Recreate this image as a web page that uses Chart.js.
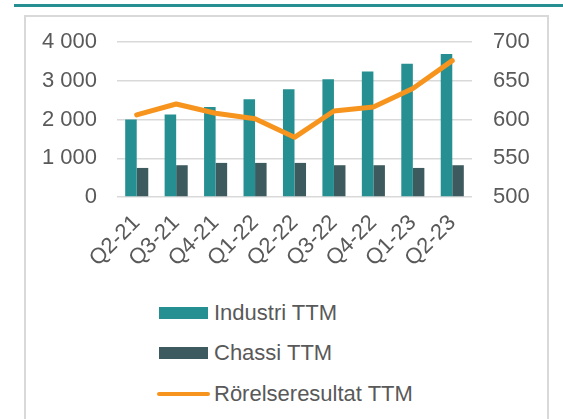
<!DOCTYPE html>
<html>
<head>
<meta charset="utf-8">
<script src="https://cdn.jsdelivr.net/npm/chart.js@4"></script>
<style>
  body { margin: 0; background: #fff; width: 563px; height: 419px; overflow: hidden; position: relative; font-family: Arial, "Liberation Sans", sans-serif; }
  #topline { position: absolute; left: 14px; top: 4px; width: 549px; height: 3px; background: #268f92; }
  #frame { position: absolute; left: 24px; top: 15px; width: 521px; height: 420px; border: 2px solid #d9d9d9; border-bottom: none; }
  #wrap { position: absolute; left: 24px; top: 16px; }
  #legend { position: absolute; left: 157px; top: 293px; color: #595959; font-size: 22px; }
  .row { display: flex; align-items: center; height: 40.3px; }
  .sw { width: 53px; display: flex; justify-content: center; margin-right: 4px; }
</style>
</head>
<body>
<div id="topline"></div>
<div id="frame"></div>
<div id="wrap"><canvas id="combo-chart" width="525" height="262"></canvas></div>
<div id="legend"></div>
<script>
const quarters = ["Q2-21", "Q3-21", "Q4-21", "Q1-22", "Q2-22", "Q3-22", "Q4-22", "Q1-23", "Q2-23"];
const industri = [2000, 2130, 2320, 2520, 2780, 3040, 3240, 3440, 3690];
const chassi = [750, 820, 880, 880, 880, 820, 820, 750, 820];
const rorelseresultat = [606, 620, 608, 601, 577, 611, 616, 640, 676];
const leftTicks = [0, 1000, 2000, 3000, 4000];
const rightTicks = [500, 550, 600, 650, 700];

const grey = "#595959";
const combo_chart = document.getElementById("combo-chart");

function spaced(v) {
  return String(v).replace(/\B(?=(\d{3})+(?!\d))/g, " ");
}

// y axes: fixed width, and no extra top/bottom padding from the tick padding
function fixAxis(width) {
  return function (scale) {
    scale.width = width;
    scale.paddingTop = 0;
    scale.paddingBottom = 0;
  };
}

const chart = new Chart(combo_chart, {
  type: 'bar',
  data: {
    labels: quarters,
    datasets: [
      {
        label: 'Industri TTM',
        data: industri,
        backgroundColor: 'rgb(38, 143, 146)',
        yAxisID: 'y',
        order: 1
      },
      {
        label: 'Chassi TTM',
        data: chassi,
        backgroundColor: 'rgb(61, 91, 95)',
        yAxisID: 'y',
        order: 1
      },
      {
        type: 'line',
        label: 'Rörelseresultat TTM',
        data: rorelseresultat,
        borderColor: 'rgb(247, 148, 29)',
        borderWidth: 5,
        pointRadius: 0,
        borderCapStyle: 'round',
        borderJoinStyle: 'round',
        tension: 0,
        yAxisID: 'y1',
        order: 0
      }
    ]
  },
  options: {
    responsive: false,
    animation: false,
    layout: { padding: { top: 26, left: 0, right: 0, bottom: 0 } },
    datasets: {
      bar: { categoryPercentage: 0.585, barPercentage: 1 }
    },
    plugins: {
      legend: { display: false },
      tooltip: { enabled: false }
    },
    scales: {
      x: {
        grid: { display: false },
        border: { display: false },
        ticks: {
          color: grey,
          font: { size: 22, family: 'Arial, "Liberation Sans", sans-serif' },
          minRotation: 45,
          maxRotation: 45,
          autoSkip: false,
          padding: 5
        },
        afterFit(scale) { scale.height = 81; }
      },
      y: {
        position: 'left',
        min: 0,
        max: 4000,
        afterBuildTicks(scale) { scale.ticks = leftTicks.map(v => ({ value: v })); },
        grid: { color: '#d9d9d9', lineWidth: 1.5, drawTicks: false },
        border: { display: false },
        ticks: {
          color: grey,
          font: { size: 22, family: 'Arial, "Liberation Sans", sans-serif' },
          padding: 20,
          callback: v => spaced(v)
        },
        afterFit: fixAxis(93)
      },
      y1: {
        position: 'right',
        min: 500,
        max: 700,
        afterBuildTicks(scale) { scale.ticks = rightTicks.map(v => ({ value: v })); },
        grid: { display: false, drawTicks: false },
        border: { display: false },
        ticks: {
          color: grey,
          font: { size: 22, family: 'Arial, "Liberation Sans", sans-serif' },
          padding: 21
        },
        afterFit: fixAxis(77)
      }
    }
  }
});

// legend as html, one item per row like the original
const legend = document.getElementById("legend");
chart.data.datasets.forEach(ds => {
  const row = document.createElement("div");
  row.className = "row";
  const sw = document.createElement("div");
  sw.className = "sw";
  const mark = document.createElement("div");
  if (ds.type === 'line') {
    mark.style.cssText = "width:53px;height:4px;border-radius:2px;background:" + ds.borderColor;
  } else {
    mark.style.cssText = "width:49px;height:12px;background:" + ds.backgroundColor;
  }
  sw.appendChild(mark);
  const txt = document.createElement("span");
  txt.textContent = ds.label;
  row.appendChild(sw);
  row.appendChild(txt);
  legend.appendChild(row);
});
</script>
</body>
</html>
